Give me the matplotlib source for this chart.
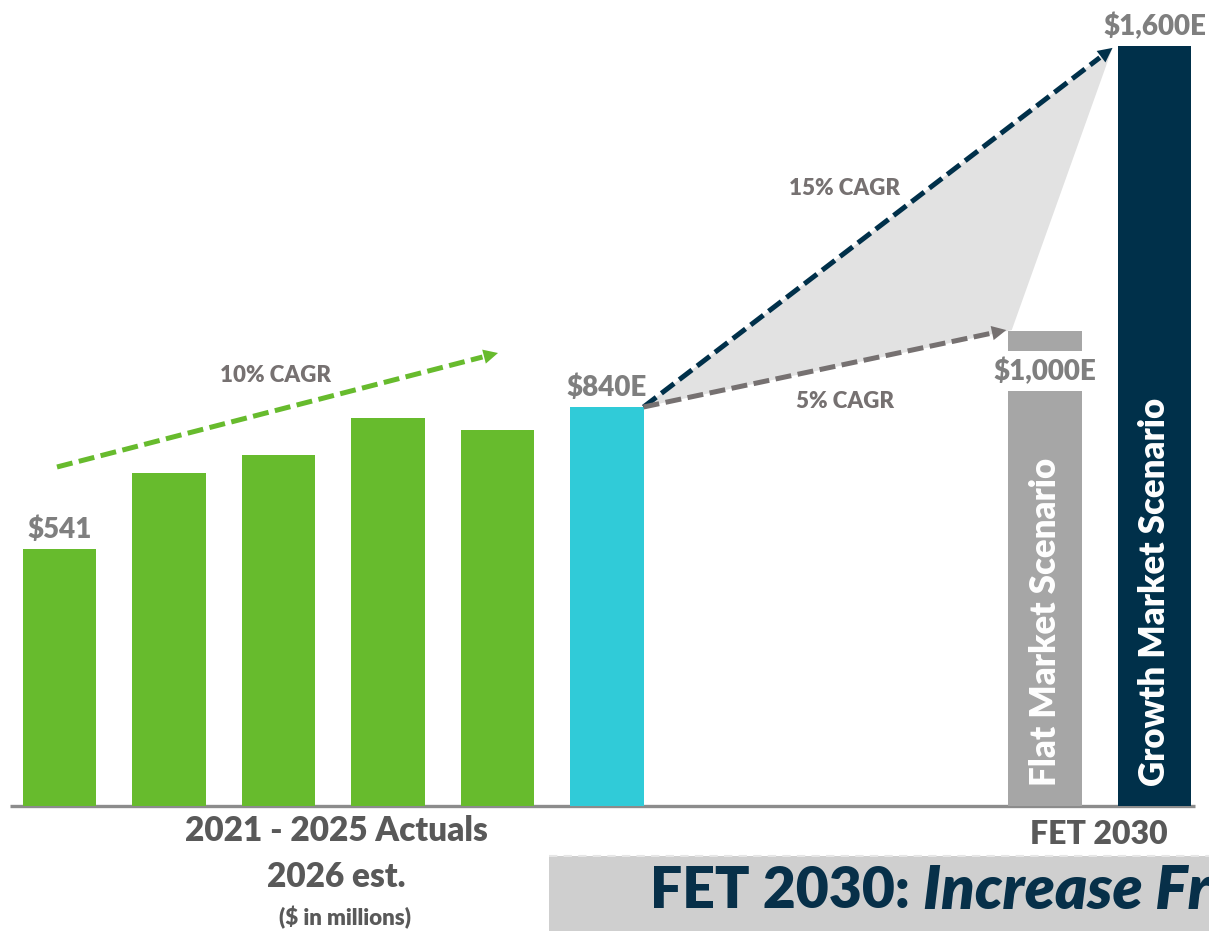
import matplotlib
matplotlib.use("Agg")
import matplotlib.pyplot as plt
from matplotlib.patches import Rectangle, Polygon
import numpy as np

plt.rcParams['font.family'] = ['Lato', 'DejaVu Sans']
FW = 'heavy'

# ---- data ----
hist_years = ["2021", "2022", "2023", "2024", "2025", "2026"]
hist_values = [541, 701, 739, 817, 792, 840]
hist_colors = ["#67bb2d"] * 5 + ["#30cbd8"]
scenario_names = ["Flat Market Scenario", "Growth Market Scenario"]
scenario_values = [1000, 1600]
scenario_colors = ["#a6a6a6", "#00304a"]
value_labels = {0: "$541", 5: "$840E"}
scenario_labels = ["$1,000E", "$1,600E"]
cagr_labels = ["10% CAGR", "15% CAGR", "5% CAGR"]

W, H = 1209, 931
fig = plt.figure(figsize=(W / 100, H / 100), dpi=100)
ax = fig.add_axes([0, 0, 1, 1])
SLOT = 109.5
X0 = 59.5
BASE = 806
SC = 0.475
ax.set_xlim(-X0 / SLOT, (W - X0) / SLOT)
ax.set_ylim(-(H - BASE) / SC, BASE / SC)
ax.axis('off')

def px(x, y):
    return ((x - X0) / SLOT, (BASE - y) / SC)

bw = 0.667
hx = list(range(len(hist_values)))
sx = [9, 10]

# baseline
ax.plot([px(10, 0)[0], px(1195, 0)[0]], [0, 0], color="#8c8c8c", lw=2.4, zorder=1,
        solid_capstyle='butt')

ax.bar(hx, hist_values, width=bw, color=hist_colors, zorder=3)
ax.bar(sx, scenario_values, width=bw, color=scenario_colors, zorder=3)

lab_col = "#7f7f7f"
for i, t in value_labels.items():
    ax.text(hx[i], hist_values[i] + 12, t, ha='center', va='bottom', fontsize=20,
            fontweight=FW, color=lab_col, zorder=5)

# flat scenario label with white gap
y_lo = px(0, 391)[1]
y_hi = px(0, 351)[1]
ax.add_patch(Rectangle((sx[0] - bw / 2 - 0.01, y_lo), bw + 0.02, y_hi - y_lo,
                       facecolor='white', edgecolor='none', zorder=4))
ax.text(sx[0], (y_lo + y_hi) / 2, scenario_labels[0], ha='center', va='center',
        fontsize=20, fontweight=FW, color=lab_col, zorder=5)
ax.text(sx[1], scenario_values[1] + 12, scenario_labels[1], ha='center', va='bottom',
        fontsize=20, fontweight=FW, color=lab_col, zorder=5)

# rotated labels inside scenario bars
for x, name in zip(sx, scenario_names):
    ax.text(x, px(0, 786)[1], name, rotation=90, ha='center', va='bottom',
            fontsize=25, fontweight=FW, color='white', zorder=5)

# shaded fan between scenarios
start = (hx[5] + bw / 2, hist_values[5])
growth_tip = (sx[1] - bw / 2 - 0.05, scenario_values[1] - 4)
flat_tip = (sx[0] - bw / 2 - 0.02, scenario_values[0] + 2)
ax.add_patch(Polygon([start, growth_tip, (sx[0] - bw / 2 + 0.03, scenario_values[0] + 2)],
                     closed=True, facecolor="#e2e2e2", edgecolor='none', zorder=2))

def dashed_arrow(p0, p1, color, lw=3.6, dash=(3.2, 1.3), head=26):
    p0 = np.array(p0, float); p1 = np.array(p1, float)
    t0 = ax.transData.transform(p0); t1 = ax.transData.transform(p1)
    d = t1 - t0
    L = np.hypot(*d)
    back = t1 - d / L * 16
    back_d = ax.transData.inverted().transform(back)
    ax.plot([p0[0], back_d[0]], [p0[1], back_d[1]], color=color, lw=lw,
            ls=(0, dash), zorder=4, dash_capstyle='butt')
    ax.annotate("", xy=tuple(p1), xytext=tuple(back_d),
                arrowprops=dict(arrowstyle='-|>', color=color, lw=0,
                                mutation_scale=head, shrinkA=0, shrinkB=0),
                zorder=4)

dashed_arrow(px(57, 467), px(498, 353), "#67bb2d")
dashed_arrow(start, growth_tip, "#00304a")
dashed_arrow(start, flat_tip, "#767171")

cagr_col = "#767171"
ax.text(*px(275, 376), cagr_labels[0], ha='center', va='center', fontsize=16,
        fontweight=FW, color=cagr_col)
ax.text(*px(844, 189), cagr_labels[1], ha='center', va='center', fontsize=16,
        fontweight=FW, color=cagr_col)
ax.text(*px(845, 402), cagr_labels[2], ha='center', va='center', fontsize=16,
        fontweight=FW, color=cagr_col)

# bottom labels
dk = "#595959"
ax.text(*px(336, 831), "2021 - 2025 Actuals", ha='center', va='center', fontsize=24,
        fontweight=FW, color=dk)
ax.text(*px(336, 877), "2026 est.", ha='center', va='center', fontsize=24,
        fontweight=FW, color=dk)
ax.text(*px(345, 918), "($ in millions)", ha='center', va='center', fontsize=16,
        fontweight=FW, color=dk)
ax.text(*px(1099, 834), "FET 2030", ha='center', va='center', fontsize=23,
        fontweight=FW, color=dk)

# banner
fig.patches.append(Rectangle((549 / W, 0), (W - 549) / W, 75 / H, transform=fig.transFigure,
                             facecolor="#cfcfcf", edgecolor='none', zorder=0))
fig.lines.append(plt.Line2D([549 / W, 1], [75 / H, 75 / H], transform=fig.transFigure,
                            color="#e6e6e6", lw=1.5, ls=(0, (4, 3))))
t1 = fig.text(650 / W, (H - 891) / H, "FET 2030: ", ha='left', va='center', fontsize=41,
              fontweight=FW, color="#073049")
fig.canvas.draw()
bb = t1.get_window_extent()
fig.text(bb.x1 / W, (H - 891) / H, "Increase Fr", ha='left', va='center', fontsize=44,
         fontweight=FW, fontstyle='italic', color="#073049")

fig.savefig("out.png", dpi=100)
